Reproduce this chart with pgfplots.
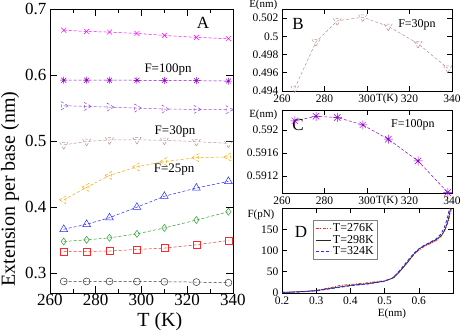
\documentclass[border=0pt]{standalone}
\usepackage{fontspec}
\setmainfont{Liberation Serif}
\usepackage{pgfplots}
\pgfplotsset{compat=1.18}

\definecolor{gmag}{RGB}{255,0,255}
\definecolor{gviol}{RGB}{148,0,211}
\definecolor{gviol2}{RGB}{150,70,220}
\definecolor{gbrown}{RGB}{188,143,143}
\definecolor{gorange}{RGB}{255,165,0}
\definecolor{gblue}{RGB}{40,40,255}
\definecolor{ggreen}{RGB}{40,160,40}
\definecolor{gred}{RGB}{255,40,40}

% xmgrace style 8-armed star
\pgfdeclareplotmark{gstar}{%
  \pgfpathmoveto{\pgfqpoint{0pt}{\pgfplotmarksize}}%
  \pgfpathlineto{\pgfqpoint{0pt}{-\pgfplotmarksize}}%
  \pgfpathmoveto{\pgfqpoint{\pgfplotmarksize}{0pt}}%
  \pgfpathlineto{\pgfqpoint{-\pgfplotmarksize}{0pt}}%
  \pgfpathmoveto{\pgfqpoint{0.707\pgfplotmarksize}{0.707\pgfplotmarksize}}%
  \pgfpathlineto{\pgfqpoint{-0.707\pgfplotmarksize}{-0.707\pgfplotmarksize}}%
  \pgfpathmoveto{\pgfqpoint{0.707\pgfplotmarksize}{-0.707\pgfplotmarksize}}%
  \pgfpathlineto{\pgfqpoint{-0.707\pgfplotmarksize}{0.707\pgfplotmarksize}}%
  \pgfusepathqstroke}

\pgfplotsset{
  grace/.style={
    scale only axis, clip=false,
    axis line style={line width=0.8pt},
    every tick/.style={black, line width=0.6pt},
    tick align=inside,
    /pgf/number format/assume math mode=true,
  },
  ser/.style={color=#1, line width=0.5pt, dash pattern=on 3pt off 2pt,
    mark options={solid, line width=0.5pt}},
}

\begin{document}
\begin{tikzpicture}
\path[use as bounding box] (0pt,0pt) rectangle (463pt,332pt);

% ---------- panel A ----------
\begin{axis}[grace,
  at={(50pt,39pt)}, anchor=south west,
  width=183pt, height=284pt,
  xmin=260, xmax=340, ymin=0.27, ymax=0.7,
  xtick={260,280,...,340}, minor x tick num=1,
  ytick={0.3,0.4,0.5,0.6,0.7},
  yticklabels={0.3,0.4,0.5,0.6,0.7},
  major tick length=7pt, minor tick length=4pt,
  ticklabel style={font=\fontsize{17}{17}\selectfont},
  xticklabel style={inner sep=1pt},
  xlabel={T (K)}, ylabel={Extension per base (nm)},
  label style={font=\fontsize{20}{20}\selectfont, inner sep=0pt},
  xlabel style={at={(rel axis cs:0.6,-0.102)}, anchor=center},
  ylabel style={at={(rel axis cs:-0.218,0.366)}, anchor=center},
]
\addplot[ser=gmag, mark=x, mark size=3.5pt] coordinates {
(266,0.668) (276,0.666) (286,0.665) (298,0.663) (310,0.660) (324,0.657) (338,0.655)};
\addplot[ser=gviol, mark=gstar, mark size=3.5pt] coordinates {
(266,0.5922) (276,0.5922) (286,0.5922) (298,0.5921) (310,0.5918) (324,0.5915) (338,0.5909)};
\addplot[ser=gviol2, mark=triangle, mark size=4.5pt, mark options={rotate=-90}] coordinates {
(266,0.5535) (276,0.5525) (286,0.5515) (298,0.5500) (310,0.5485) (324,0.5480) (338,0.5475)};
\addplot[ser=gbrown, mark=triangle, mark size=4.5pt, mark options={rotate=180}] coordinates {
(266,0.4943) (276,0.4994) (286,0.5017) (298,0.5021) (310,0.5011) (324,0.4992) (338,0.4965)};
\addplot[ser=gorange, mark=triangle, mark size=4.5pt, mark options={rotate=90}] coordinates {
(266,0.411) (276,0.430) (286,0.448) (298,0.461) (310,0.469) (324,0.475) (338,0.476)};
\addplot[ser=gblue, mark=triangle, mark size=4.5pt] coordinates {
(266,0.3665) (276,0.374) (286,0.384) (298,0.400) (310,0.4165) (324,0.429) (338,0.439)};
\addplot[ser=ggreen, mark=diamond, mark size=3.5pt] coordinates {
(266,0.348) (276,0.3505) (286,0.3535) (298,0.3595) (310,0.3685) (324,0.3805) (338,0.393)};
\addplot[ser=gred, mark=square, mark size=3.5pt] coordinates {
(266,0.3325) (276,0.333) (286,0.3335) (298,0.336) (310,0.338) (324,0.343) (338,0.3495)};
\addplot[ser=black!80, mark=o, mark size=3.5pt] coordinates {
(266,0.2875) (276,0.2875) (286,0.2875) (298,0.2873) (310,0.2870) (324,0.2865) (338,0.2855)};
\node[font=\fontsize{17}{17}\selectfont] at (rel axis cs:0.836,0.951) {A};
\node[font=\fontsize{13}{13}\selectfont] at (rel axis cs:0.645,0.785) {F=100pn};
\node[font=\fontsize{13}{13}\selectfont] at (rel axis cs:0.683,0.570) {F=30pn};
\node[font=\fontsize{13}{13}\selectfont] at (rel axis cs:0.678,0.433) {F=25pn};
\end{axis}

% ---------- panel B ----------
\begin{axis}[grace,
  at={(282pt,241pt)}, anchor=south west,
  width=170pt, height=82pt,
  xmin=260, xmax=340, ymin=0.494, ymax=0.503,
  xtick={260,280,...,340},
  ytick={0.494,0.496,0.498,0.5,0.502},
  yticklabels={0.494,0.496,0.498,0.5,0.502},
  major tick length=5pt,
  ticklabel style={font=\fontsize{11.5}{11.5}\selectfont},
  xlabel={T(K)}, ylabel={E(nm)},
  label style={font=\fontsize{11}{11}\selectfont, inner sep=0pt},
  xlabel style={at={(rel axis cs:0.618,-0.098)}, anchor=center},
  ylabel style={at={(rel axis cs:-0.11,1.045)}, anchor=center, rotate=-90},
]
\addplot[ser=gbrown, mark=triangle, mark size=4.5pt, mark options={rotate=180}] coordinates {
(266,0.4943) (276,0.4994) (286,0.5017) (298,0.5021) (310,0.5011) (324,0.4992) (338,0.4965)};
\node[font=\fontsize{17}{17}\selectfont] at (rel axis cs:0.094,0.817) {B};
\node[font=\fontsize{12}{12}\selectfont] at (rel axis cs:0.794,0.805) {F=30pn};
\end{axis}

% ---------- panel C ----------
\begin{axis}[grace,
  at={(282pt,139pt)}, anchor=south west,
  width=170pt, height=83pt,
  xmin=260, xmax=340, ymin=0.5909, ymax=0.59235,
  xtick={260,280,...,340},
  ytick={0.5912,0.5916,0.592},
  yticklabels={0.5912,0.5916,0.592},
  major tick length=5pt,
  ticklabel style={font=\fontsize{11.5}{11.5}\selectfont},
  xlabel={T(K)}, ylabel={E(nm)},
  label style={font=\fontsize{11}{11}\selectfont, inner sep=0pt},
  xlabel style={at={(rel axis cs:0.618,-0.093)}, anchor=center},
  ylabel style={at={(rel axis cs:-0.11,0.945)}, anchor=center, rotate=-90},
]
\addplot[ser=gviol, mark=gstar, mark size=4.5pt] coordinates {
(266,0.59216) (276,0.59224) (286,0.59222) (298,0.59209) (310,0.59184) (324,0.59146) (338,0.59091)};
\node[font=\fontsize{17}{17}\selectfont] at (rel axis cs:0.094,0.82) {C};
\node[font=\fontsize{12}{12}\selectfont] at (rel axis cs:0.77,0.82) {F=100pn};
\end{axis}

% ---------- panel D ----------
\begin{axis}[grace,
  at={(282pt,39pt)}, anchor=south west,
  width=171pt, height=85pt,
  xmin=0.2, xmax=0.7, ymin=0, ymax=200,
  xtick={0.2,0.3,0.4,0.5,0.6,0.7},
  xticklabels={0.2,0.3,0.4,0.5,0.6,},
  ytick={0,50,100,150},
  major tick length=5pt,
  ticklabel style={font=\fontsize{11.5}{11.5}\selectfont},
  xlabel={E(nm)}, ylabel={F(pN)},
  label style={font=\fontsize{11}{11}\selectfont, inner sep=0pt},
  xlabel style={at={(rel axis cs:0.643,-0.24)}, anchor=center},
  ylabel style={at={(rel axis cs:-0.123,0.92)}, anchor=center, rotate=-90},
  legend style={at={(rel axis cs:0.181,0.859)}, anchor=north west,
    draw=gray, line width=0.8pt, inner xsep=2pt, inner ysep=1.5pt,
    font=\fontsize{12}{12}\selectfont, row sep=-1.5pt,
    nodes={inner sep=1.8pt}},
  legend cell align=left,
  legend image code/.code={\draw[#1, line width=0.8pt] (0pt,0pt) -- (15pt,0pt);},
]
\addplot[color=gred, line width=0.8pt, dash pattern=on 3pt off 1.5pt on 1pt off 1.5pt] coordinates {
(0.2,1) (0.25,2.5) (0.3,6) (0.35,14) (0.37,18) (0.4,20) (0.45,24) (0.5,29) (0.52,34)
(0.535,44) (0.55,57) (0.57,75) (0.585,90) (0.6,101) (0.615,109) (0.63,115) (0.65,123)
(0.665,133) (0.675,146) (0.685,165) (0.69,180) (0.696,200)};
\addlegendentry{T=276K}
\addplot[color=black!85, line width=0.7pt] coordinates {
(0.2,1.5) (0.25,3) (0.3,5.5) (0.35,12) (0.4,18) (0.45,22) (0.5,28) (0.527,36)
(0.546,52) (0.566,71) (0.585,91) (0.6,103) (0.615,111) (0.63,117) (0.654,127) (0.668,137)
(0.678,152) (0.686,172) (0.693,200)};
\addlegendentry{T=298K}
\addplot[color=gblue, line width=0.8pt, dash pattern=on 3pt off 2pt] coordinates {
(0.2,1.5) (0.25,2.5) (0.3,5) (0.35,11) (0.4,17) (0.45,21) (0.5,27.5) (0.525,36)
(0.545,54) (0.565,74) (0.585,93) (0.6,104) (0.615,112) (0.63,118) (0.65,127) (0.665,139)
(0.675,155) (0.683,175) (0.69,200)};
\addlegendentry{T=324K}
\node[font=\fontsize{17}{17}\selectfont] at (rel axis cs:0.111,0.72) {D};
\end{axis}
\end{tikzpicture}
\end{document}
